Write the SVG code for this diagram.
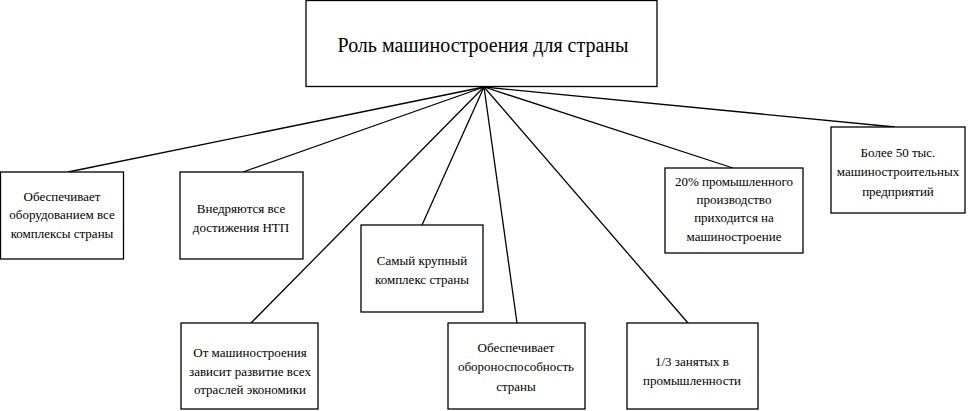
<svg xmlns="http://www.w3.org/2000/svg" width="969" height="411" viewBox="0 0 969 411">
<style>
.box{fill:#fff;stroke:#000;stroke-width:1.3}
.ln{stroke:#000;stroke-width:1.3;fill:none}
text{font-family:"Liberation Serif","Times New Roman",serif;fill:#000;text-anchor:middle}
.t{font-size:13px}
.h{font-size:20px}
</style>
<rect width="969" height="411" fill="#fff"/>
<g id="connectors">
<line class="ln" x1="484" y1="87" x2="68" y2="172"/>
<line class="ln" x1="484" y1="87" x2="243" y2="172"/>
<line class="ln" x1="484" y1="87" x2="422" y2="225"/>
<line class="ln" x1="484" y1="87" x2="251" y2="323"/>
<line class="ln" x1="484" y1="87" x2="517" y2="323"/>
<line class="ln" x1="484" y1="87" x2="688" y2="323"/>
<line class="ln" x1="484" y1="87" x2="733" y2="168"/>
<line class="ln" x1="484" y1="87" x2="895" y2="127"/>
</g>
<g id="root">
<rect class="box" x="306" y="0.5" width="351" height="86"/>
<text class="h" x="483" y="52">Роль машиностроения для страны</text>
</g>
<g id="n1">
<rect class="box" x="0.5" y="172" width="123" height="87"/>
<text class="t" x="62" y="201">Обеспечивает</text>
<text class="t" x="62" y="219">оборудованием все</text>
<text class="t" x="62" y="238">комплексы страны</text>
</g>
<g id="n2">
<rect class="box" x="180" y="172" width="123" height="87"/>
<text class="t" x="241" y="213">Внедряются все</text>
<text class="t" x="241" y="232">достижения НТП</text>
</g>
<g id="n3">
<rect class="box" x="361" y="225" width="122" height="87"/>
<text class="t" x="422" y="265">Самый крупный</text>
<text class="t" x="422" y="284">комплекс страны</text>
</g>
<g id="n4">
<rect class="box" x="181" y="323" width="137" height="86"/>
<text class="t" x="250" y="357">От машиностроения</text>
<text class="t" x="250" y="376">зависит развитие всех</text>
<text class="t" x="250" y="394">отраслей экономики</text>
</g>
<g id="n5">
<rect class="box" x="448" y="323" width="137" height="86"/>
<text class="t" x="516" y="352">Обеспечивает</text>
<text class="t" x="516" y="371">обороноспособность</text>
<text class="t" x="516" y="391">страны</text>
</g>
<g id="n6">
<rect class="box" x="627" y="323" width="131" height="86"/>
<text class="t" x="692" y="366">1/3 занятых в</text>
<text class="t" x="692" y="385">промышленности</text>
</g>
<g id="n7">
<rect class="box" x="665" y="168" width="138" height="85"/>
<text class="t" x="734" y="186">20% промышленного</text>
<text class="t" x="734" y="204">производство</text>
<text class="t" x="734" y="222">приходится на</text>
<text class="t" x="734" y="241">машиностроение</text>
</g>
<g id="n8">
<rect class="box" x="831" y="127" width="134" height="86"/>
<text class="t" x="898" y="157">Более 50 тыс.</text>
<text class="t" x="898" y="176">машиностроительных</text>
<text class="t" x="898" y="196">предприятий</text>
</g>
</svg>
